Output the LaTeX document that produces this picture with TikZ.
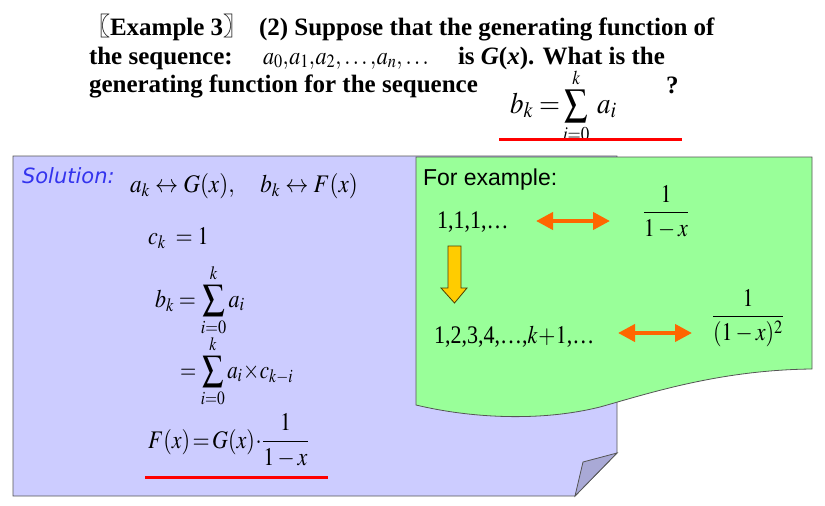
\documentclass[tikz,border=0pt]{standalone}
\usepackage{amsmath}
\usepackage{mathptmx}
\usepackage{graphicx}
\usepackage{fontspec}
\setmainfont{Liberation Serif}
\newfontfamily\cjkf{Noto Sans CJK SC}
\newfontfamily\solfont{DejaVu Sans}
\newfontfamily\arialf{Liberation Sans}
\usetikzlibrary{arrows.meta}
\definecolor{boxblue}{HTML}{CCCCFF}
\definecolor{foldblue}{HTML}{A9A9D6}
\definecolor{boxgreen}{HTML}{99FF99}
\definecolor{orng}{HTML}{FF6600}
\definecolor{yell}{HTML}{FFCC00}
\definecolor{solblue}{HTML}{3333EE}
\definecolor{edge}{HTML}{555555}
\newcommand{\tall}[1]{\scalebox{1}[1.15]{#1}}
\newcommand{\cm}{{,}\mkern0.5mu}
\tikzset{
  txt/.style={anchor=base west, inner sep=0pt, outer sep=0pt},
  ttl/.style={txt, font=\fontsize{25}{29}\selectfont\bfseries},
  mth/.style={txt, font=\fontsize{22}{26}\selectfont},
  bigm/.style={txt, font=\fontsize{27}{31}\selectfont},
  redline/.style={draw=red, line width=3pt},
  dblarrow/.style={draw=orng, line width=4pt, {Triangle[length=17pt,width=17pt]}-{Triangle[length=17pt,width=17pt]}},
}
\begin{document}
\begin{tikzpicture}[x=1pt,y=-1pt]
\useasboundingbox (0,0) rectangle (825,506);
% title
\node[ttl] (t1a) at (85,35) {{\cjkf 〖}Example 3{\cjkf 〗}};
\node[ttl] (t1b) at (259,35) {(2) Suppose that the generating function of};
\node[ttl] (t2a) at (89,64) {the sequence:};
\node[mth] (t2m) at (263,64) {\tall{$a_0\cm a_1\cm a_2\cm \ldots\cm a_n\cm \ldots$}};
\node[ttl] (t2b) at (458,64) {is \textit{G}(\textit{x}). What is the};
\node[ttl] (t3) at (89,92) {generating function for the sequence};
\node[ttl] (t3q) at (666,93) {?};
\node[bigm] (t3m) at (510,113) {\scalebox{1}[1.1]{$b_k=$}};
\node[txt, font=\fontsize{23}{27}\selectfont] (t3s) at (563,113) {\tall{$\displaystyle\sum_{i=0}^{k}$}};
\node[bigm] (t3a) at (597,113) {\scalebox{1}[1.1]{$a_i$}};
\coordinate (r1a) at (499,139); \coordinate (r1b) at (682,139);
\draw[redline] (r1a) -- (r1b);
% blue box
\draw[edge, fill=boxblue, line width=0.8pt] (13,156) -- (617,156) -- (617,453) -- (575,496) -- (13,496) -- cycle;
\draw[edge, fill=foldblue, line width=0.8pt] (575,496) -- (583,462) -- (617,453) -- cycle;
% green box
\draw[edge, fill=boxgreen, line width=0.8pt] (416,157) -- (812,157) -- (812,369)
  .. controls (720,370) and (650,393) .. (600,407)
  .. controls (540,422) and (470,418) .. (416,405) -- cycle;
% left contents
\node[txt, font=\fontsize{21}{25}\selectfont\solfont\itshape, text=solblue] (sol) at (22,183) {Solution:};
\node[mth] (m1) at (130,192) {\scalebox{1.05}[1.15]{$a_k\leftrightarrow G(x),\quad b_k\leftrightarrow F(x)$}};
\node[mth] (m2) at (148,244) {\tall{$c_k\;=1$}};
\node[mth] (m3) at (155,307) {\tall{$b_k=\displaystyle\sum_{i=0}^{k}a_i$}};
\node[mth] (m4) at (180,378) {\scalebox{0.95}[1.15]{$=\displaystyle\sum_{i=0}^{k}a_i\!\times\! c_{k-i}$}};
\node[mth] (m5) at (148,448) {\tall{$F(x)\!=\!G(x)\!\cdot\!\dfrac{1}{1-x}$}};
\coordinate (r2a) at (145,477); \coordinate (r2b) at (328,477);
\draw[redline] (r2a) -- (r2b);
% right contents
\node[txt, font=\fontsize{23}{27}\selectfont\arialf] (fe) at (423,185) {For example:};
\node[mth] (s1) at (437,228) {\tall{1,1,1,\ldots}};
\node[mth, anchor=center] (f1) at (666,212) {\tall{$\dfrac{1}{1-x}$}};
\node[mth] (s2) at (434,343) {\tall{1,2,3,4,\ldots,$k\!+\!1$,\ldots}};
\node[mth, anchor=center] (f2) at (748,318) {\tall{$\dfrac{1}{(1-x)^2}$}};
\coordinate (a1l) at (536,221); \coordinate (a1r) at (610,221);
\coordinate (a2l) at (618,333); \coordinate (a2r) at (692,333);
\draw[dblarrow] (a1l) -- (a1r);
\draw[dblarrow] (a2l) -- (a2r);
% yellow block arrow
\draw[fill=yell, draw=black!70!yell, line width=0.8pt] (448,246) -- (461,246) -- (461,288) -- (467,288) -- (454.5,303) -- (441,288) -- (448,288) -- cycle;
\end{tikzpicture}
\end{document}
